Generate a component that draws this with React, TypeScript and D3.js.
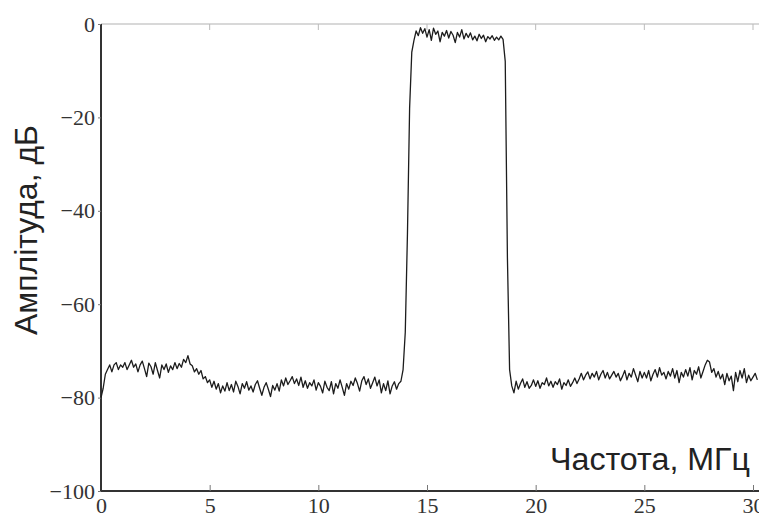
import React, { useEffect, useRef } from 'react';
import * as d3 from 'd3';

// frequency step 0.1 MHz, values in dB
const freqStart = 0;
const freqStep = 0.1;
const amplitude = [
  -80, -78, -75, -74, -73, -74.5, -73, -72.5, -74, -73,
  -73.5, -72.5, -74, -73, -72, -73.5, -72.8, -74.5, -73, -72.2,
  -73.8, -75.5, -72.6, -73.4, -75, -72.5, -74.2, -75.8, -73, -74,
  -72.8, -74.6, -73.2, -74, -72.5, -73.8, -72.7, -73.5, -71.8, -72.5,
  -71, -72.8, -73.2, -74.5, -73.8, -75, -74.2, -76, -75.5, -76.8,
  -76.2, -77.8, -76.5, -78.2, -77, -79, -77.5, -78.6, -76.8, -78.5,
  -77.2, -78.8, -76.5, -77.6, -79.2, -77, -78, -76.6, -78.4, -77.5,
  -78.8, -77.2, -76.4, -78, -79.5, -77.8, -76.8, -78.2, -79.8, -77.4,
  -78.4, -77, -78.6, -76.2, -77.5, -75.8, -77.2, -76.4, -75.5, -77,
  -76, -77.4, -75.6, -77.8, -76.4, -78, -76.8, -77.5, -76.2, -78.4,
  -76.8, -77.6, -79, -76.5, -77.8, -78.5, -76.6, -79.2, -77, -78,
  -76.2, -77.8, -79.5, -77, -78.2, -76.5, -77.4, -75.8, -77, -78.6,
  -76.4, -75.5, -77.2, -76, -78, -76.8, -75.6, -77.5, -76.2, -79,
  -77, -78.5, -76.4, -79.2, -77.5, -76.6, -78.2, -77, -76.5, -74,
  -66, -45, -18, -6, -3.5, -1.5, -2.5, -0.8, -2, -1,
  -2.8, -1.2, -3.5, -0.9, -2.2, -1.5, -3.8, -1.8, -2.6, -1.4,
  -3, -1.6, -2.4, -4, -1.8, -2.8, -1.2, -3.2, -2, -2.9,
  -1.9, -3.4, -2.6, -3.6, -2.2, -3.1, -2.4, -3.8, -2.7, -3.2,
  -2.5, -3.5, -2.8, -3.4, -2.6, -3.3, -8, -50, -74, -77.5,
  -79, -76.5, -78.2, -77, -76, -77.8, -76.6, -78, -77.4, -76.2,
  -77.6, -76.4, -78, -76.8, -77.2, -75.8, -77.5, -76.5, -77.8, -76.6,
  -77.2, -76, -78.2, -76.8, -77.4, -76.2, -77.6, -76.8, -75.8, -77,
  -76, -74.8, -76.2, -75.2, -74.5, -76, -74.8, -75.6, -74.4, -76.2,
  -75, -74.2, -75.8, -74.6, -76, -75.2, -74.4, -75.6, -74.8, -76.4,
  -75.4, -74.2, -76.2, -74.8, -75.6, -73.8, -75.2, -76.6, -74.4, -75.8,
  -74.6, -75.8, -74.2, -76.4, -75, -74, -75.6, -73.6, -75.2, -74.6,
  -76, -74.4, -75.4, -73.8, -75.8, -74.2, -76.8, -74.6, -75.6, -74,
  -75.4, -73.6, -76.2, -74.2, -75, -73.4, -75.8, -74.4, -73, -72,
  -72.4, -74.6, -73.8, -75.6, -74.4, -76, -75, -77.2, -74.8, -76.4,
  -75.4, -78.5, -74.6, -76.6, -74.2, -75.8, -73.8, -76.8, -75.2, -76.4,
  -75.6, -74.8, -76.2,
];
const xTicks = [0, 5, 10, 15, 20, 25, 30];
const yTicks = [0, -20, -40, -60, -80, -100];
const xLabel = 'Частота, МГц';
const yLabel = 'Амплітуда, дБ';

const serif = 'Liberation Serif, DejaVu Serif, Times New Roman, serif';
const sans = 'Liberation Sans, Arial, sans-serif';

const App = () => {
  const ref = useRef<SVGSVGElement>(null);

  useEffect(() => {
    const svg = d3.select(ref.current);
    svg.selectAll('*').remove();

    const left = 101, top = 24, bottom = 491, right = 759;

    const x = d3.scaleLinear().domain([0, 30]).range([left, 753]);
    const y = d3.scaleLinear().domain([-100, 0]).range([bottom, top]);

    const data = amplitude.map((v, i) => ({ f: freqStart + i * freqStep, v }));

    // top box line
    svg.append('line')
      .attr('x1', left).attr('x2', right).attr('y1', top).attr('y2', top)
      .attr('stroke', '#d8d8d8').attr('stroke-width', 2);

    // top ticks
    svg.append('g').selectAll('line').data(xTicks).join('line')
      .attr('x1', d => x(d)).attr('x2', d => x(d))
      .attr('y1', top).attr('y2', top + 6)
      .attr('stroke', '#bbb').attr('stroke-width', 1);

    // bottom axis
    const xAxis = svg.append('g')
      .attr('transform', `translate(0,${bottom})`)
      .call(d3.axisBottom(x).tickValues(xTicks).tickSize(-6).tickPadding(6).tickFormat(d3.format('d')))
      .attr('font-family', serif)
      .attr('font-size', 22);
    xAxis.select('.domain').attr('d', `M${left},0H${right}`).attr('stroke', '#333').attr('stroke-width', 2);
    xAxis.selectAll('.tick line').attr('stroke', '#777');
    xAxis.selectAll('.tick text').attr('fill', '#333');

    // left axis
    const yAxis = svg.append('g')
      .attr('transform', `translate(${left},0)`)
      .call(d3.axisLeft(y).tickValues(yTicks).tickSize(3).tickPadding(3).tickFormat(d3.format('d')))
      .attr('font-family', serif)
      .attr('font-size', 22);
    yAxis.select('.domain').attr('d', `M0,${top}V${bottom}`).attr('stroke', '#333').attr('stroke-width', 2);
    yAxis.selectAll('.tick line').attr('stroke', '#777');
    yAxis.selectAll('.tick text').attr('fill', '#333');

    // trace
    svg.append('path')
      .datum(data)
      .attr('fill', 'none')
      .attr('stroke', '#1c1c1c')
      .attr('stroke-width', 1.3)
      .attr('stroke-linejoin', 'round')
      .attr('d', d3.line<{ f: number; v: number }>()
        .x(d => x(d.f))
        .y(d => y(d.v)));

    // axis titles
    svg.append('text')
      .attr('x', 750).attr('y', 470)
      .attr('text-anchor', 'end')
      .attr('font-family', sans)
      .attr('font-size', 31)
      .attr('textLength', 200)
      .attr('lengthAdjust', 'spacingAndGlyphs')
      .attr('fill', '#222')
      .text(xLabel);

    svg.append('text')
      .attr('transform', `translate(37,230) rotate(-90)`)
      .attr('text-anchor', 'middle')
      .attr('font-family', sans)
      .attr('font-size', 32)
      .attr('textLength', 210)
      .attr('lengthAdjust', 'spacingAndGlyphs')
      .attr('fill', '#222')
      .text(yLabel);
  }, []);

  return (
    <div style={{ position: 'absolute', left: 0, top: 0, background: '#fff' }}>
      <svg ref={ref} width={759} height={516} style={{ display: 'block' }} />
    </div>
  );
};

export default App;
